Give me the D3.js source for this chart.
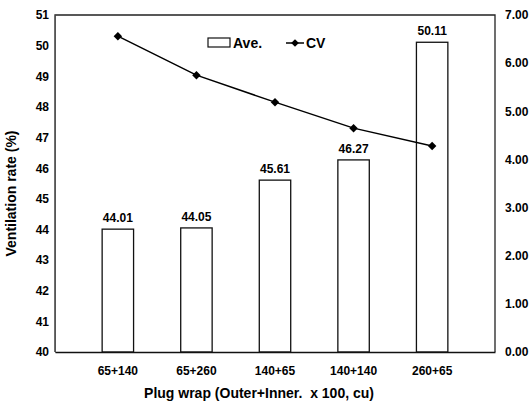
<!DOCTYPE html>
<html>
<head>
<meta charset="utf-8">
<script src="https://cdn.jsdelivr.net/npm/d3@7"></script>
<style>
  body { margin: 0; background: #fff; }
  text { font-family: "Liberation Sans", Arial, sans-serif; font-weight: bold; fill: #000; }
</style>
</head>
<body>
<div id="chart"></div>
<script>
var categories = ["65+140", "65+260", "140+65", "140+140", "260+65"];
var aveValues = [44.01, 44.05, 45.61, 46.27, 50.11];
var cvValues = [6.56, 5.75, 5.19, 4.65, 4.28];
var leftTicks = [40, 41, 42, 43, 44, 45, 46, 47, 48, 49, 50, 51];
var rightTicks = [0, 1, 2, 3, 4, 5, 6, 7];

var margin = {top: 15, right: 34, bottom: 55, left: 55},
    width = 529 - margin.left - margin.right,
    height = 407 - margin.top - margin.bottom;

var svg = d3.select("#chart").append("svg")
    .attr("width", 529)
    .attr("height", 407)
  .append("g")
    .attr("transform", "translate(" + margin.left + "," + margin.top + ")");

var x = d3.scaleBand()
    .domain(categories)
    .range([0, width])
    .padding(0.6);

var y = d3.scaleLinear().domain([40, 51]).range([height, 0]);
var y2 = d3.scaleLinear().domain([0, 7]).range([height, 0]);

// frame
svg.append("path")
    .attr("d", "M0," + height + "V0H" + width + "V" + height)
    .attr("fill", "none")
    .attr("stroke", "#222")
    .attr("stroke-width", 1.3);

// bars
svg.selectAll(".bar")
    .data(aveValues)
    .enter().append("rect")
    .attr("x", function(d, i) { return x(categories[i]); })
    .attr("width", x.bandwidth())
    .attr("y", function(d) { return y(d); })
    .attr("height", function(d) { return height - y(d); })
    .attr("fill", "#fff")
    .attr("stroke", "#111")
    .attr("stroke-width", 1.3);

svg.selectAll(".barlabel")
    .data(aveValues)
    .enter().append("text")
    .attr("x", function(d, i) { return x(categories[i]) + x.bandwidth() / 2; })
    .attr("y", function(d) { return y(d) - 7; })
    .attr("text-anchor", "middle")
    .style("font-size", "12px")
    .text(function(d) { return d.toFixed(2); });

// left axis
var yAxis = svg.append("g")
    .call(d3.axisLeft(y).tickValues(leftTicks).tickSize(0).tickPadding(6).tickFormat(d3.format("d")));
yAxis.select(".domain").attr("stroke", "#555").attr("stroke-width", 1);
yAxis.selectAll("text").style("font-size", "12px");

// right axis
var yAxis2 = svg.append("g")
    .attr("transform", "translate(" + width + ",0)")
    .call(d3.axisRight(y2).tickValues(rightTicks).tickSize(0).tickPadding(10).tickFormat(d3.format(".2f")));
yAxis2.select(".domain").remove();
yAxis2.selectAll("text").style("font-size", "12px");

// bottom axis
var xAxis = svg.append("g")
    .attr("transform", "translate(0," + height + ")")
    .call(d3.axisBottom(x).tickSize(0).tickPadding(14));
xAxis.select(".domain").attr("stroke", "#111").attr("stroke-width", 1.5);
xAxis.selectAll("text").style("font-size", "12px");

// CV line
var line = d3.line()
    .x(function(d, i) { return x(categories[i]) + x.bandwidth() / 2; })
    .y(function(d) { return y2(d); });

svg.append("path")
    .datum(cvValues)
    .attr("d", line)
    .attr("fill", "none")
    .attr("stroke", "#000")
    .attr("stroke-width", 1.5);

// square markers turned 45 degrees
svg.selectAll(".marker")
    .data(cvValues)
    .enter().append("path")
    .attr("d", d3.symbol().type(d3.symbolSquare).size(36))
    .attr("transform", function(d, i) {
        return "translate(" + (x(categories[i]) + x.bandwidth() / 2) + "," + y2(d) + ") rotate(45)";
    })
    .attr("fill", "#000");

// legend
var legend = svg.append("g").attr("transform", "translate(153,23)");
legend.append("rect")
    .attr("x", 0).attr("y", 0).attr("width", 22).attr("height", 9)
    .attr("fill", "#fff").attr("stroke", "#111").attr("stroke-width", 1.2);
legend.append("text")
    .attr("x", 25).attr("y", 10)
    .style("font-size", "14px")
    .text("Ave.");
legend.append("line")
    .attr("x1", 78).attr("x2", 96).attr("y1", 5).attr("y2", 5)
    .attr("stroke", "#000").attr("stroke-width", 1.5);
legend.append("path")
    .attr("d", d3.symbol().type(d3.symbolSquare).size(30))
    .attr("transform", "translate(87,5) rotate(45)");
legend.append("text")
    .attr("x", 98).attr("y", 10)
    .style("font-size", "14px")
    .text("CV");

// axis titles
svg.append("text")
    .attr("transform", "translate(" + (16 - margin.left) + "," + (height / 2 + 10) + ") rotate(-90)")
    .attr("text-anchor", "middle")
    .style("font-size", "14px")
    .text("Ventilation rate (%)");

svg.append("text")
    .attr("x", 259 - margin.left)
    .attr("y", height + 46)
    .attr("text-anchor", "middle")
    .style("font-size", "14px")
    .style("white-space", "pre")
    .text("Plug wrap (Outer+Inner.  x 100, cu)");
</script>
</body>
</html>
